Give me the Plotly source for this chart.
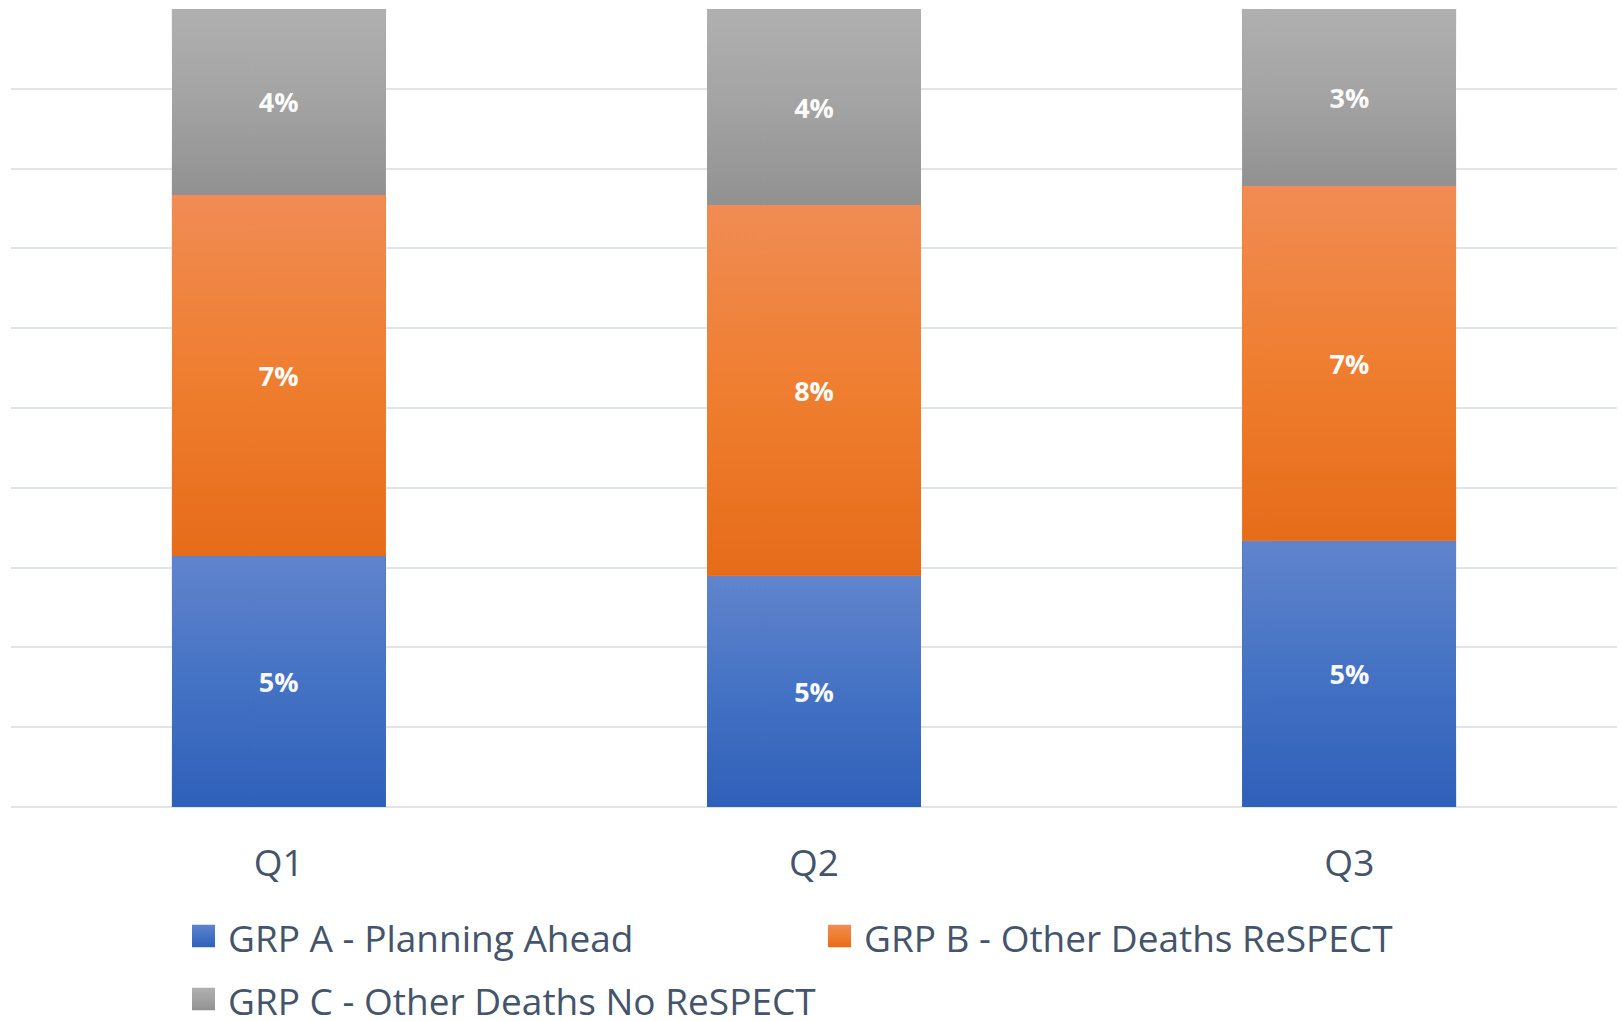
import base64
import plotly.graph_objects as go

# Quarterly share of deaths by group (values as fractions of all deaths)
quarters = ["Q1", "Q2", "Q3"]
grp_a = [0.0487, 0.0493, 0.0507]   # GRP A - Planning Ahead
grp_b = [0.0701, 0.0790, 0.0676]   # GRP B - Other Deaths ReSPECT
grp_c = [0.0361, 0.0418, 0.0337]   # GRP C - Other Deaths No ReSPECT

names = ["GRP A - Planning Ahead", "GRP B - Other Deaths ReSPECT",
         "GRP C - Other Deaths No ReSPECT"]
values = [grp_a, grp_b, grp_c]
# base colour plus the light (top) and dark (bottom) ends of each segment's shading
colors = ["#4472C4", "#EF7E30", "#A3A3A3"]
tops = ["#6184CC", "#F08C54", "#B0B0B0"]
bottoms = ["#2F60B9", "#E66C19", "#919191"]

FONT = "Open Sans"
TEXT_COLOR = "#44546A"
GRID = "#E1E4E9"
W, H = 1622, 1021
M_L, M_R, M_T, M_B = 11, 5, 9, 214
BAR_WIDTH = 0.4  # category units (1 - bargap)

fig = go.Figure()
for name, vals, color in zip(names, values, colors):
    fig.add_trace(go.Bar(
        x=quarters,
        y=vals,
        name=name,
        marker=dict(color=color, line=dict(width=0)),
        customdata=vals,
        texttemplate="%{customdata:.0%}",
        textposition="inside",
        insidetextanchor="middle",
        textangle=0,
        textfont=dict(family=FONT, size=27, color="white", weight="bold"),
        hoverinfo="skip",
        showlegend=False,
    ))


def svg_uri(svg):
    return "data:image/svg+xml;base64," + base64.b64encode(svg.encode()).decode()


def shade_overlay(top, bottom):
    # fades from the top tint to transparent at mid-height, then to the bottom shade
    return svg_uri(
        '<svg xmlns="http://www.w3.org/2000/svg" width="10" height="100" '
        'viewBox="0 0 10 100" preserveAspectRatio="none">'
        '<defs><linearGradient id="g" x1="0" y1="0" x2="0" y2="1">'
        f'<stop offset="0" stop-color="{top}" stop-opacity="1"/>'
        f'<stop offset="0.5" stop-color="{top}" stop-opacity="0"/>'
        f'<stop offset="0.5" stop-color="{bottom}" stop-opacity="0"/>'
        f'<stop offset="1" stop-color="{bottom}" stop-opacity="1"/>'
        '</linearGradient></defs>'
        '<rect width="10" height="100" fill="url(#g)"/></svg>'
    )


def swatch(top, mid, bottom):
    return svg_uri(
        '<svg xmlns="http://www.w3.org/2000/svg" width="10" height="10" '
        'viewBox="0 0 10 10" preserveAspectRatio="none">'
        '<defs><linearGradient id="g" x1="0" y1="0" x2="0" y2="1">'
        f'<stop offset="0" stop-color="{top}"/>'
        f'<stop offset="0.5" stop-color="{mid}"/>'
        f'<stop offset="1" stop-color="{bottom}"/>'
        '</linearGradient></defs>'
        '<rect width="10" height="10" fill="url(#g)"/></svg>'
    )


images = []
overlays = [shade_overlay(t, b) for t, b in zip(tops, bottoms)]
for j in range(len(quarters)):
    total = sum(v[j] for v in values)
    base = 0.0
    for vals, src in zip(values, overlays):
        top = base + vals[j] / total
        images.append(dict(
            source=src, xref="x", yref="y",
            x=j - BAR_WIDTH / 2, y=top,
            sizex=BAR_WIDTH, sizey=top - base,
            xanchor="left", yanchor="top",
            sizing="stretch", layer="above",
        ))
        base = top

# Legend laid out in two columns below the axis
plot_w = W - M_L - M_R
plot_h = H - M_T - M_B


def px_x(px):
    return (px - M_L) / plot_w


def px_y(py):
    return (H - M_B - py) / plot_h


legend_slots = [(192, 936), (828, 936), (192, 999)]
SWATCH = 23
annotations = []
for (lx, ly), name, t, c, b in zip(legend_slots, names, tops, colors, bottoms):
    images.append(dict(
        source=swatch(t, c, b), xref="paper", yref="paper",
        x=px_x(lx), y=px_y(ly - SWATCH / 2),
        sizex=SWATCH / plot_w, sizey=SWATCH / plot_h,
        xanchor="left", yanchor="top", sizing="stretch", layer="above",
    ))
    annotations.append(dict(
        text=name, xref="paper", yref="paper",
        x=px_x(lx + 34), y=px_y(ly + 1),
        xanchor="left", yanchor="middle", showarrow=False,
        font=dict(family=FONT, size=37, color=TEXT_COLOR),
    ))

fig.update_layout(
    barmode="stack",
    barnorm="fraction",
    bargap=0.6,
    width=W,
    height=H,
    margin=dict(l=M_L, r=M_R, t=M_T, b=M_B),
    paper_bgcolor="white",
    plot_bgcolor="white",
    font=dict(family=FONT, color=TEXT_COLOR),
    showlegend=False,
    images=images,
    annotations=annotations,
)

fig.update_xaxes(
    showgrid=False,
    showline=False,
    ticks="outside",
    ticklen=24,
    tickcolor="rgba(0,0,0,0)",
    tickfont=dict(family=FONT, size=37, color=TEXT_COLOR),
)
fig.update_yaxes(
    range=[0, 1],
    dtick=0.1,
    showticklabels=False,
    showgrid=True,
    gridcolor=GRID,
    gridwidth=2,
    zeroline=True,
    zerolinecolor=GRID,
    zerolinewidth=2,
    showline=False,
)

fig.write_html("out.html")
